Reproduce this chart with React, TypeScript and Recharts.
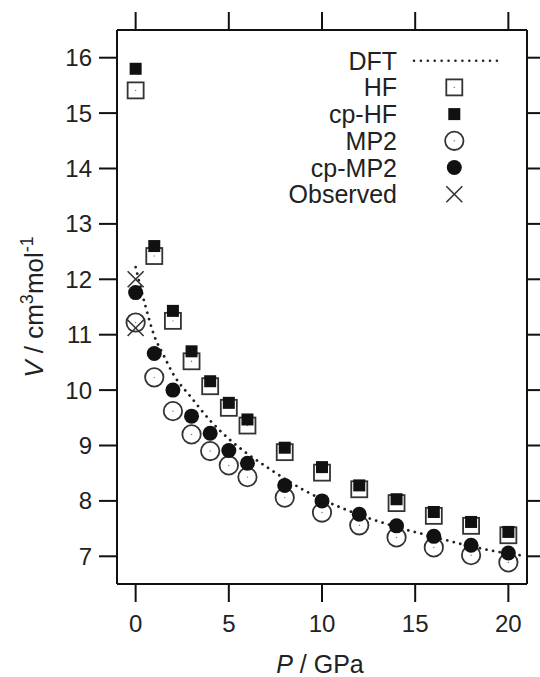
import React from "react";
import { ComposedChart, Line, Scatter, XAxis, YAxis, Legend, Label } from "recharts";

// pressure grid of the computed points (GPa)
const pressure = [0, 1, 2, 3, 4, 5, 6, 8, 10, 12, 14, 16, 18, 20];
const hf = [15.41, 12.42, 11.25, 10.52, 10.07, 9.68, 9.36, 8.88, 8.51, 8.21, 7.96, 7.73, 7.55, 7.38];
const cpHf = [15.8, 12.6, 11.43, 10.7, 10.16, 9.77, 9.47, 8.96, 8.61, 8.28, 8.03, 7.8, 7.62, 7.44];
const mp2 = [11.22, 10.23, 9.62, 9.2, 8.9, 8.64, 8.43, 8.06, 7.79, 7.56, 7.34, 7.16, 7.02, 6.89];
const cpMp2 = [11.76, 10.66, 10.0, 9.53, 9.22, 8.91, 8.68, 8.28, 8.0, 7.76, 7.55, 7.36, 7.2, 7.06];

// DFT curve
const dftPressure = [0, 0.5, 1, 1.5, 2, 3, 4, 5, 6, 7, 8, 9, 10, 12, 14, 16, 18, 20, 20.6];
const dftVolume = [12.22, 11.55, 10.98, 10.63, 10.3, 9.86, 9.45, 9.12, 8.85, 8.62, 8.4, 8.2, 8.03, 7.75, 7.53, 7.35, 7.18, 7.05, 7.02];

const observedPressure = [0, 0];
const observedVolume = [12.0, 11.12];

const xTicks = [0, 5, 10, 15, 20];
const yTicks = [7, 8, 9, 10, 11, 12, 13, 14, 15, 16];
const legendLabels = ["DFT", "HF", "cp-HF", "MP2", "cp-MP2", "Observed"];

const toPoints = (xs: number[], ys: number[]) => xs.map((x, i) => ({ p: x, v: ys[i] }));

const FONT = "'Liberation Sans', Arial, Helvetica, sans-serif";
const INK = "#111";
const GREY = "#333";

const OpenSquare = ({ cx, cy }: any) => (
  <g>
    <rect x={cx - 8} y={cy - 8} width={16} height={16} fill="none" stroke={GREY} strokeWidth={1.8} />
    <circle cx={cx} cy={cy} r={0.7} fill="#777" />
  </g>
);
const FilledSquare = ({ cx, cy }: any) => (
  <rect x={cx - 6} y={cy - 6} width={12} height={12} fill={INK} />
);
const OpenCircle = ({ cx, cy }: any) => (
  <g>
    <circle cx={cx} cy={cy} r={9.2} fill="none" stroke={GREY} strokeWidth={1.8} />
    <circle cx={cx} cy={cy} r={0.7} fill="#777" />
  </g>
);
const FilledCircle = ({ cx, cy }: any) => <circle cx={cx} cy={cy} r={7.5} fill={INK} />;
const Cross = ({ cx, cy }: any) => (
  <g stroke={GREY} strokeWidth={1.6}>
    <line x1={cx - 8} y1={cy - 8} x2={cx + 8} y2={cy + 8} />
    <line x1={cx - 8} y1={cy + 8} x2={cx + 8} y2={cy - 8} />
  </g>
);

const symbols = [null, OpenSquare, FilledSquare, OpenCircle, FilledCircle, Cross];

const renderLegend = () => (
  <svg width={260} height={180} style={{ overflow: "visible" }}>
    {legendLabels.map((name, i) => {
      const cy = 20.7 + i * 26.7;
      const Sym = symbols[i];
      return (
        <g key={name}>
          <text x={127} y={cy + 9} textAnchor="end" fontSize={25} fill="#222" fontFamily={FONT}>
            {name}
          </text>
          {Sym ? (
            <Sym cx={184.3} cy={cy} />
          ) : (
            <line
              x1={144}
              y1={cy}
              x2={227}
              y2={cy}
              stroke="#222"
              strokeWidth={2.6}
              strokeDasharray="0.01 6.9"
              strokeLinecap="round"
            />
          )}
        </g>
      );
    })}
  </svg>
);

const noTick = () => <g />;

const axisLine = { stroke: INK, strokeWidth: 2 };
const tickLine = { stroke: INK, strokeWidth: 2 };
const tickStyle = { fontSize: 24, fill: "#222", fontFamily: FONT };

export default function App() {
  return (
    <div style={{ position: "absolute", left: 0, top: 0, background: "#fff" }}>
      <ComposedChart width={540} height={677} margin={{ top: 29, right: 12, bottom: 0, left: 0 }}>
        <XAxis
          xAxisId="b"
          type="number"
          dataKey="p"
          domain={[-1, 21]}
          ticks={xTicks}
          allowDataOverflow
          height={93}
          tickSize={18}
          tickMargin={13}
          axisLine={axisLine}
          tickLine={tickLine}
          tick={tickStyle}
        >
          <Label
            content={({ viewBox }: any) => (
              <text
                x={viewBox.x + viewBox.width / 2 - 2}
                y={viewBox.y + 88.7}
                textAnchor="middle"
                fontSize={25}
                fill="#222"
                fontFamily={FONT}
              >
                <tspan fontStyle="italic">P</tspan>
                <tspan> / GPa</tspan>
              </text>
            )}
          />
        </XAxis>
        <XAxis
          xAxisId="t"
          orientation="top"
          type="number"
          dataKey="p"
          domain={[-1, 21]}
          ticks={xTicks}
          allowDataOverflow
          height={1}
          tickSize={18}
          tick={noTick}
          axisLine={axisLine}
          tickLine={tickLine}
        />
        <YAxis
          yAxisId="l"
          type="number"
          dataKey="v"
          domain={[6.5, 16.5]}
          ticks={yTicks}
          allowDataOverflow
          width={117}
          tickSize={18}
          tickMargin={7}
          axisLine={axisLine}
          tickLine={tickLine}
          tick={tickStyle}
        >
          <Label
            content={({ viewBox }: any) => {
              const x = 43;
              const y = viewBox.y + viewBox.height / 2;
              return (
                <text
                  x={x}
                  y={y}
                  transform={`rotate(-90 ${x} ${y})`}
                  textAnchor="middle"
                  fontSize={26}
                  fill="#222"
                  fontFamily={FONT}
                >
                  <tspan fontStyle="italic">V</tspan>
                  <tspan> / cm</tspan>
                  <tspan dy={-10} fontSize={18}>3</tspan>
                  <tspan dy={10}>mol</tspan>
                  <tspan dy={-10} fontSize={18}>-1</tspan>
                </text>
              );
            }}
          />
        </YAxis>
        <YAxis
          yAxisId="r"
          orientation="right"
          type="number"
          dataKey="v"
          domain={[6.5, 16.5]}
          ticks={yTicks}
          allowDataOverflow
          width={1}
          tickSize={18}
          tick={noTick}
          axisLine={axisLine}
          tickLine={tickLine}
        />
        <Legend content={renderLegend} layout="vertical" align="center" verticalAlign="middle" wrapperStyle={{ left: 270, top: 40, width: 260 }} />
        <Line
          xAxisId="b"
          yAxisId="l"
          data={toPoints(dftPressure, dftVolume)}
          dataKey="v"
          type="monotone"
          stroke="#222"
          strokeWidth={2.8}
          strokeDasharray="0.01 6.7"
          strokeLinecap="round"
          dot={false}
          activeDot={false}
          isAnimationActive={false}
        />
        <Scatter xAxisId="b" yAxisId="l" data={toPoints(pressure, hf)} dataKey="v" shape={OpenSquare} isAnimationActive={false} />
        <Scatter xAxisId="b" yAxisId="l" data={toPoints(pressure, cpHf)} dataKey="v" shape={FilledSquare} isAnimationActive={false} />
        <Scatter xAxisId="b" yAxisId="l" data={toPoints(pressure, mp2)} dataKey="v" shape={OpenCircle} isAnimationActive={false} />
        <Scatter xAxisId="b" yAxisId="l" data={toPoints(pressure, cpMp2)} dataKey="v" shape={FilledCircle} isAnimationActive={false} />
        <Scatter xAxisId="t" yAxisId="r" data={toPoints(observedPressure, observedVolume)} dataKey="v" shape={Cross} isAnimationActive={false} />
      </ComposedChart>
    </div>
  );
}
